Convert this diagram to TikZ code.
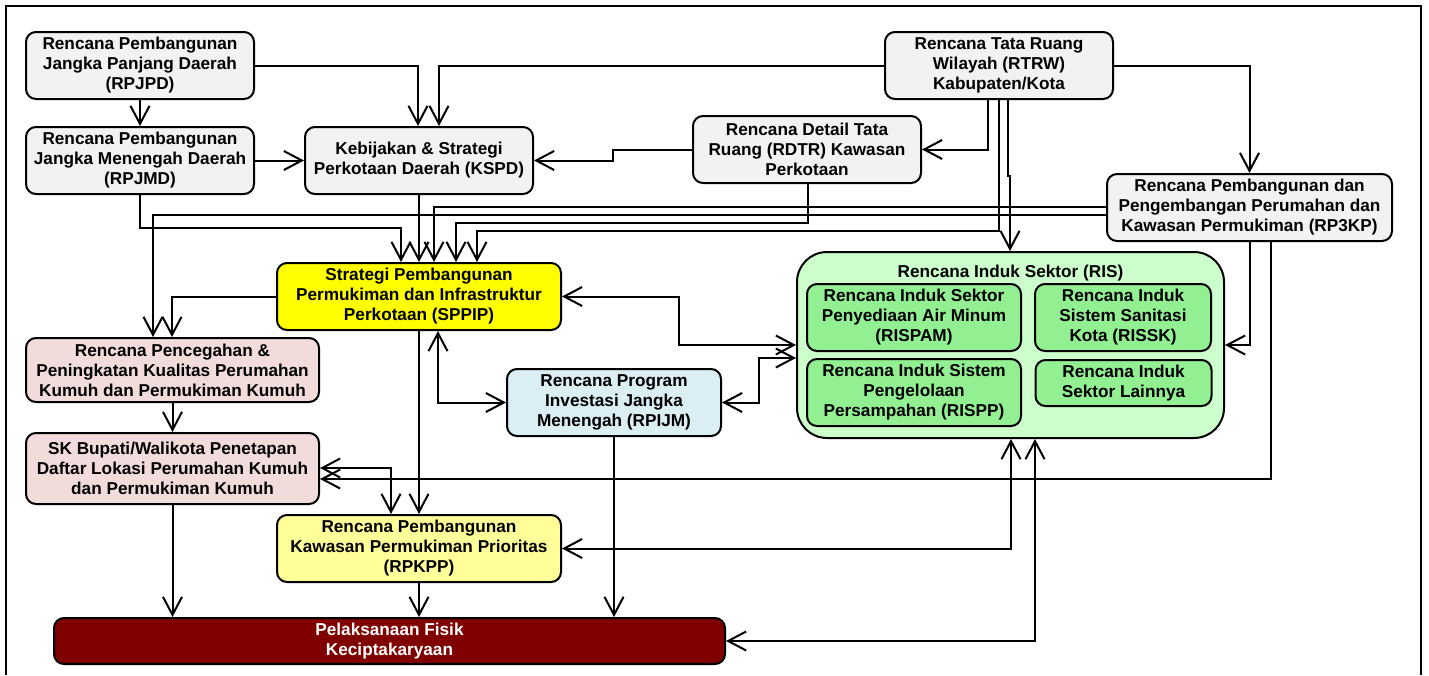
\documentclass[tikz,border=0pt]{standalone}
\usepackage{fontspec}
\setmainfont{Liberation Sans}
\usetikzlibrary{arrows.meta}
\definecolor{boxgray}{HTML}{F2F2F2}
\definecolor{sppipyel}{HTML}{FFFF00}
\definecolor{pinkbox}{HTML}{F2DCDB}
\definecolor{bluebox}{HTML}{DAEEF3}
\definecolor{lyellow}{HTML}{FFFF99}
\definecolor{maroonbox}{HTML}{800000}
\definecolor{risbg}{HTML}{CCFFCC}
\definecolor{risin}{RGB}{146,240,146}
\tikzset{
  box/.style={draw=black, line width=1pt, rounded corners=5pt, align=center, inner sep=0pt,
    font=\bfseries\fontsize{8.6}{10}\selectfont, fill=boxgray},
  arr/.style={line width=1pt, -{Straight Barb[length=9pt,width=9.5pt,line width=1pt]}},
  biarr/.style={line width=1pt, {Straight Barb[length=9pt,width=9.5pt,line width=1pt]}-{Straight Barb[length=9pt,width=9.5pt,line width=1pt]}},
}
\begin{document}
\begin{tikzpicture}[x=0.5pt,y=-0.5pt]
\useasboundingbox (0,0) rectangle (1429,675);
\draw[line width=1pt] (6,675) -- (6,6) -- (1421,6) -- (1421,675);

% nodes
\node[box, minimum width=114pt, minimum height=33.5pt] (rpjpd) at (140,65.5) {Rencana Pembangunan\\Jangka Panjang Daerah\\(RPJPD)};
\node[box, minimum width=114pt, minimum height=33.5pt] (rpjmd) at (140,160.5) {Rencana Pembangunan\\Jangka Menengah Daerah\\(RPJMD)};
\node[box, minimum width=114pt, minimum height=33.5pt] (kspd) at (419,160.5) {Kebijakan \& Strategi\\Perkotaan Daerah (KSPD)};
\node[box, minimum width=114pt, minimum height=33.5pt] (rdtr) at (807,149.5) {Rencana Detail Tata\\Ruang (RDTR) Kawasan\\Perkotaan};
\node[box, minimum width=114pt, minimum height=33.5pt] (rtrw) at (999,65.5) {Rencana Tata Ruang\\Wilayah (RTRW)\\Kabupaten/Kota};
\node[box, minimum width=142.5pt, minimum height=33.5pt] (rp3kp) at (1249.5,207.5) {Rencana Pembangunan dan\\Pengembangan Perumahan dan\\Kawasan Permukiman (RP3KP)};
\node[box, fill=sppipyel, minimum width=142pt, minimum height=33.5pt] (sppip) at (419,296.5) {Strategi Pembangunan\\Permukiman dan Infrastruktur\\Perkotaan (SPPIP)};
\node[box, fill=pinkbox, minimum width=146.5pt, minimum height=32pt] (pencegahan) at (172.5,370) {Rencana Pencegahan \&\\Peningkatan Kualitas Perumahan\\Kumuh dan Permukiman Kumuh};
\node[box, fill=pinkbox, minimum width=146.5pt, minimum height=35.5pt] (sk) at (172.5,468.5) {SK Bupati/Walikota Penetapan\\Daftar Lokasi Perumahan Kumuh\\dan Permukiman Kumuh};
\node[box, fill=lyellow, minimum width=142pt, minimum height=33.5pt] (rpkpp) at (419,548.5) {Rencana Pembangunan\\Kawasan Permukiman Prioritas\\(RPKPP)};
\node[box, fill=maroonbox, text=white, minimum width=335.5pt, minimum height=23pt] (pelak) at (389.5,641) {Pelaksanaan Fisik\\Keciptakaryaan};
\node[box, fill=bluebox, minimum width=107pt, minimum height=33.5pt] (rpijm) at (614,402.5) {Rencana Program\\Investasi Jangka\\Menengah (RPIJM)};
\node[box, fill=risbg, rounded corners=15pt, minimum width=213.5pt, minimum height=93pt] (ris) at (1010.5,345) {};
\node[font=\bfseries\fontsize{8.6}{10}\selectfont, inner sep=0pt] (ristitle) at (1010.5,273) {Rencana Induk Sektor (RIS)};
\node[box, fill=risin, minimum width=107pt, minimum height=33.5pt] (rispam) at (914,317.5) {Rencana Induk Sektor\\Penyediaan Air Minum\\(RISPAM)};
\node[box, fill=risin, minimum width=88pt, minimum height=33.5pt] (rissk) at (1123,317.5) {Rencana Induk\\Sistem Sanitasi\\Kota (RISSK)};
\node[box, fill=risin, minimum width=107pt, minimum height=33.5pt] (rispp) at (914,392.5) {Rencana Induk Sistem\\Pengelolaan\\Persampahan (RISPP)};
\node[box, fill=risin, minimum width=88pt, minimum height=23pt] (lainnya) at (1123.5,383) {Rencana Induk\\Sektor Lainnya};

% connectors
\draw[arr] (rpjpd.south) -- (rpjmd.north);
\draw[arr] (rpjpd.east) -| (kspd.north -| 418,0);
\draw[arr] (rtrw.west) -| (kspd.north -| 439,0);
\draw[arr] (rpjmd.east) -- (kspd.west);
\draw[arr] (rdtr.west) -- (613,149.5) -- (613,160.5) -- (kspd.east);
\draw[arr] (rtrw.south -| 988,0) |- (rdtr.east);
\draw[arr] (rtrw.east) -| (rp3kp.north);
\draw[arr] (rtrw.south -| 1008,0) -- (1008,176) -- (1010,176) -- (ris.north -| 1010,0);
\draw[arr] (rtrw.south -| 999,0) -- (999,231) -| (sppip.north -| 477,0);
\draw[arr] (rdtr.south -| 808,0) -- (808,223) -| (sppip.north -| 456,0);
\draw[arr] (rp3kp.west |- 0,207) -| (sppip.north -| 434,0);
\draw[arr] (rp3kp.west |- 0,215) -| (pencegahan.north -| 153,0);
\draw[arr] (kspd.south) -- (sppip.north);
\draw[arr] (rpjmd.south) -- (140,228) -| (sppip.north -| 401,0);
\draw[arr] (sppip.west) -| (pencegahan.north -| 172,0);
\draw[arr] (pencegahan.south) -- (sk.north);
\draw[arr] (sk.south) -- (sk.south |- pelak.north);
\draw[arr] (sppip.south) -- (rpkpp.north);
\draw[biarr] (sk.east |- 0,468) -| (rpkpp.north -| 391,0);
\draw[arr] (rp3kp.south -| 1271,0) |- (sk.east |- 0,479);
\draw[arr] (rp3kp.south -| 1250,0) |- (ris.east);
\draw[biarr] (sppip.east) -- (679,296.5) |- (ris.west);
\draw[biarr] (sppip.south -| 438,0) |- (rpijm.west);
\draw[biarr] (rpijm.east) -- (759,402.5) |- (ris.west |- 0,358);
\draw[arr] (rpijm.south) -- (rpijm.south |- pelak.north);
\draw[biarr] (ris.south -| 1011,0) |- (rpkpp.east);
\draw[biarr] (ris.south -| 1035,0) |- (pelak.east);
\draw[arr] (rpkpp.south) -- (rpkpp.south |- pelak.north);
\end{tikzpicture}
\end{document}
